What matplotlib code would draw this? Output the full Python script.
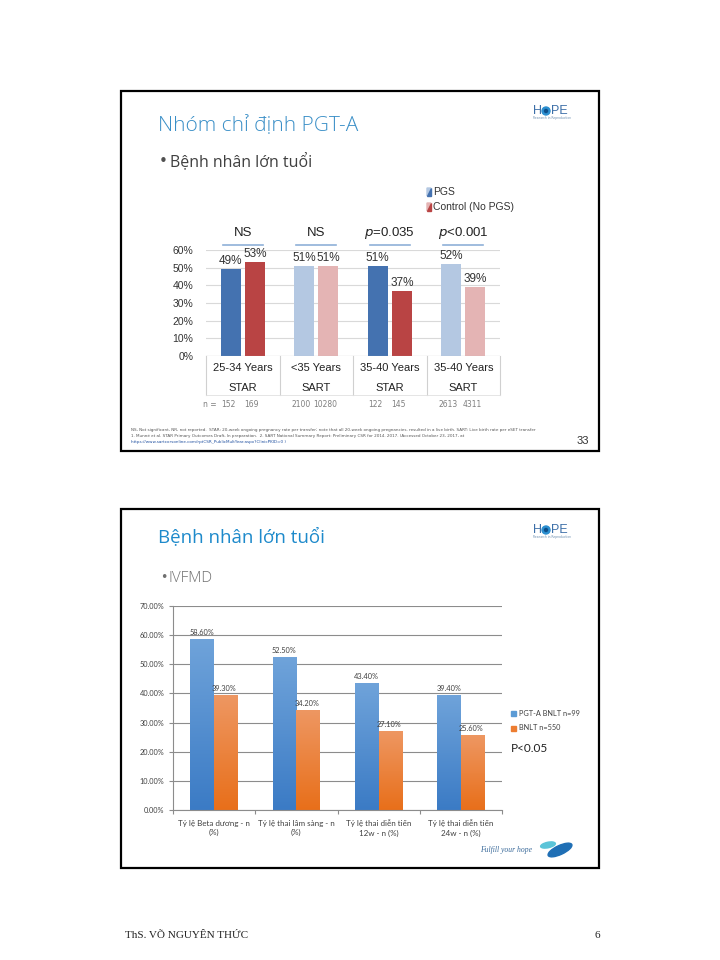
import matplotlib
matplotlib.use('Agg')
import matplotlib.pyplot as plt
import numpy as np
from matplotlib.patches import Rectangle, Polygon, Ellipse
from matplotlib.colors import LinearSegmentedColormap

plt.rcParams['font.family'] = ['DejaVu Sans']

# ---- slide 1 data ----
s1_age = ['25-34 Years', '<35 Years', '35-40 Years', '35-40 Years']
s1_src = ['STAR', 'SART', 'STAR', 'SART']
s1_pgs = [0.49, 0.51, 0.51, 0.52]
s1_ctrl = [0.53, 0.51, 0.37, 0.39]
s1_pval = ['NS', 'NS', '$p$=0.035', '$p$<0.001']
s1_n_pgs = [152, 2100, 122, 2613]
s1_n_ctrl = [169, 10280, 145, 4311]
s1_pgs_col = ['#4472b0', '#b4c8e2', '#4472b0', '#b4c8e2']
s1_ctrl_col = ['#b94444', '#e4b4b4', '#b94444', '#e4b4b4']

# ---- slide 2 data ----
s2_cats = ['Tỷ lệ Beta dương - n\n(%)', 'Tỷ lệ thai lâm sàng - n\n(%)',
           'Tỷ lệ thai diễn tiến\n12w - n (%)', 'Tỷ lệ thai diễn tiến\n24w - n (%)']
s2_pgta = [0.586, 0.525, 0.434, 0.394]
s2_bnlt = [0.393, 0.342, 0.271, 0.256]
s2_names = ['PGT-A BNLT n=99', 'BNLT n=550']

ARIAL = ['Liberation Sans', 'DejaVu Sans']
CALIBRI = ['Lato', 'DejaVu Sans']

W, H = 720, 960
fig = plt.figure(figsize=(7.2, 9.6), dpi=100)
fig.patch.set_facecolor('white')

# background axes in pixel coordinates
bg = fig.add_axes([0, 0, 1, 1])
bg.set_xlim(0, W)
bg.set_ylim(H, 0)
bg.axis('off')

# slide frames
for top, bot in [(91, 451), (509, 868)]:
    bg.add_patch(Rectangle((121, top), 478, bot - top, fill=False, ec='black', lw=1.6))

# ---------------- slide 1 ----------------
bg.text(158, 126, 'Nhóm chỉ định PGT-A', fontsize=15, color='#3a8fc7',
        family=['Open Sans', 'DejaVu Sans'], weight='light', va='center')
bg.text(159, 162, '•', fontsize=11, color='#505050', va='center')
bg.text(170, 162, 'Bệnh nhân lớn tuổi', fontsize=11.5, color='#404040',
        family=['Open Sans', 'DejaVu Sans'], va='center')


def hope_logo(x, y):
    bg.text(x, y, 'H', fontsize=9, color='#3d6fa8', va='center', ha='left', family=ARIAL)
    bg.add_patch(Ellipse((x + 13, y), 8, 8, color='#2b8fd0'))
    bg.add_patch(Ellipse((x + 13, y), 3, 3, color='#0d4f8a'))
    bg.text(x + 18, y, 'PE', fontsize=9, color='#3d6fa8', va='center', ha='left', family=ARIAL)
    bg.text(x, y + 7, 'Research in Reproduction', fontsize=2.2, color='#6d8fb0', va='center')


hope_logo(533, 111)
hope_logo(533, 530)

# slide 1 legend
for yy, light, dark, name in [(192, '#b4c8e2', '#4472b0', 'PGS'),
                              (207, '#e4b4b4', '#b94444', 'Control (No PGS)')]:
    bg.add_patch(Polygon([(427, yy - 4), (431, yy - 4), (427, yy + 4)], color=light))
    bg.add_patch(Polygon([(431, yy - 4), (431, yy + 4), (427, yy + 4)], color=dark))
    bg.text(433, yy, name, fontsize=7.5, color='#333333', va='center', family=ARIAL)

ax1 = fig.add_axes([206 / W, 1 - 356 / H, 294 / W, 106 / H])
x1 = np.arange(len(s1_pgs))
bw1 = 0.27
ax1.bar(x1 - 0.165, s1_pgs, bw1, color=s1_pgs_col, zorder=3)
ax1.bar(x1 + 0.165, s1_ctrl, bw1, color=s1_ctrl_col, zorder=3)
ax1.set_xlim(-0.5, 3.5)
ax1.set_ylim(0, 0.6)
ax1.set_yticks(np.arange(0, 0.61, 0.1))
ax1.set_yticklabels([f'{int(round(v * 100))}%' for v in np.arange(0, 0.61, 0.1)], family=ARIAL)
ax1.tick_params(axis='y', length=0, pad=9, labelsize=7.5, labelcolor='#333333')
ax1.set_xticks([])
ax1.grid(axis='y', color='#d9d9d9', lw=0.8, zorder=0)
for sp in ax1.spines.values():
    sp.set_visible(False)
ax1.axhline(0, color='#bfbfbf', lw=0.8, zorder=4)

for i in range(len(s1_pgs)):
    ax1.text(i - 0.165, s1_pgs[i] + 0.012, f'{int(round(s1_pgs[i] * 100))}%',
             ha='center', va='bottom', fontsize=8.5, color='#333333', family=ARIAL)
    ax1.text(i + 0.165, s1_ctrl[i] + 0.012, f'{int(round(s1_ctrl[i] * 100))}%',
             ha='center', va='bottom', fontsize=8.5, color='#333333', family=ARIAL)
    ax1.text(i, 0.696, s1_pval[i], ha='center', va='center', fontsize=9.5, color='#222222',
             family=ARIAL)
    ax1.plot([i - 0.27, i + 0.27], [0.628, 0.628], color='#8fb0d8', lw=1.2, clip_on=False)
    ax1.text(i, -0.068, s1_age[i], ha='center', va='center', fontsize=8, color='#222222', family=ARIAL)
    ax1.text(i, -0.181, s1_src[i], ha='center', va='center', fontsize=8, color='#222222', family=ARIAL)
    ax1.text(i - 0.2, -0.277, str(s1_n_pgs[i]), ha='center', va='center', fontsize=5.5, color='#7f7f7f')
    ax1.text(i + 0.12, -0.277, str(s1_n_ctrl[i]), ha='center', va='center', fontsize=5.5, color='#7f7f7f')
ax1.text(-0.35, -0.277, 'n =', ha='right', va='center', fontsize=5.5, color='#7f7f7f')
for sx in np.arange(-0.5, 3.6, 1.0):
    ax1.plot([sx, sx], [0, -0.221], color='#d0d0d0', lw=0.8, clip_on=False)
ax1.plot([-0.5, 3.5], [-0.221, -0.221], color='#e0e0e0', lw=0.6, clip_on=False)

# footnotes
notes = ['NS, Not significant, NR, not reported.  STAR: 20-week ongoing pregnancy rate per transfer; note that all 20-week ongoing pregnancies. '
         'resulted in a live birth. SART: Live birth rate per eSET transfer',
         '1. Munné et al. STAR Primary Outcomes Draft, In preparation.  2. SART National Summary Report: Preliminary CSR for 2014. 2017. '
         '(Accessed October 23, 2017, at']
bg.text(131, 430, notes[0], fontsize=3.0, color='#555555', va='center')
bg.text(131, 436, notes[1], fontsize=3.0, color='#555555', va='center')
bg.text(131, 442, 'https://www.sartcorsonline.com/rptCSR_PublicMultYear.aspx?ClinicPKID=0 )',
        fontsize=3.0, color='#2050a0', va='center')
bg.text(583, 441, '33', fontsize=8, color='#333333', ha='center', va='center', family=ARIAL)

# ---------------- slide 2 ----------------
bg.text(158, 537, 'Bệnh nhân lớn tuổi', fontsize=13.5, color='#1e8acb',
        family=['Open Sans', 'DejaVu Sans'], va='center')
bg.text(160, 578, '•', fontsize=9, color='#707070', va='center')
bg.text(169, 578, 'IVFMD', fontsize=11, color='#707070',
        family=['Open Sans', 'DejaVu Sans'], weight='light', va='center')

ax2 = fig.add_axes([173 / W, 1 - 810 / H, 329 / W, 204 / H])
x2 = np.arange(len(s2_pgta))
bw2 = 0.29
bars_a = ax2.bar(x2 - bw2 / 2, s2_pgta, bw2, color='#5b9bd5', zorder=3)
bars_b = ax2.bar(x2 + bw2 / 2, s2_bnlt, bw2, color='#ed7d31', zorder=3)

cmap_blue = LinearSegmentedColormap.from_list('b', ['#3b7bc5', '#6fa3da'])
cmap_orng = LinearSegmentedColormap.from_list('o', ['#e86f1a', '#ee9762'])
grad = np.linspace(0, 1, 128).reshape(-1, 1)
for bars, cm in [(bars_a, cmap_blue), (bars_b, cmap_orng)]:
    for b in bars:
        x0, w, h = b.get_x(), b.get_width(), b.get_height()
        ax2.imshow(grad, extent=[x0, x0 + w, 0, h], origin='lower', cmap=cm,
                   aspect='auto', zorder=4)

ax2.set_xlim(-0.5, 3.5)
ax2.set_ylim(0, 0.7)
yt = np.arange(0, 0.71, 0.1)
ax2.set_yticks(yt)
ax2.set_yticklabels([f'{v * 100:.2f}%' for v in yt], family=CALIBRI)
ax2.tick_params(axis='y', length=3, width=0.8, color='#8c8c8c', pad=3,
                labelsize=5.3, labelcolor='#404040')
ax2.set_xticks(x2)
ax2.set_xticklabels(s2_cats, fontsize=5.8, color='#404040', linespacing=1.4, family=CALIBRI)
ax2.tick_params(axis='x', which='major', length=0, pad=7)
ax2.set_xticks(np.arange(-0.5, 3.6, 1.0), minor=True)
ax2.tick_params(axis='x', which='minor', length=3, width=0.8, color='#8c8c8c')
ax2.grid(axis='y', color='#8c8c8c', lw=0.8, zorder=0)
ax2.spines['top'].set_visible(False)
ax2.spines['right'].set_visible(False)
ax2.spines['left'].set_color('#8c8c8c')
ax2.spines['bottom'].set_color('#8c8c8c')
ax2.spines['bottom'].set_zorder(5)

for i in range(len(s2_pgta)):
    ax2.text(i - bw2 / 2, s2_pgta[i] + 0.012, f'{s2_pgta[i] * 100:.2f}%',
             ha='center', va='bottom', fontsize=5.3, color='#404040', zorder=6, family=CALIBRI)
    ax2.text(i + bw2 / 2 - 0.02, s2_bnlt[i] + 0.012, f'{s2_bnlt[i] * 100:.2f}%',
             ha='center', va='bottom', fontsize=5.3, color='#404040', zorder=6, family=CALIBRI)

# slide 2 legend
for yy, col, name in [(713, '#5b9bd5', s2_names[0]), (728, '#ed7d31', s2_names[1])]:
    bg.add_patch(Rectangle((511, yy - 2.5), 5, 5, color=col))
    bg.text(519, yy, name, fontsize=5.3, color='#404040', va='center', family=CALIBRI)
bg.text(511, 748, 'P<0.05', fontsize=8.5, color='#222222', va='center', family=CALIBRI)

# footer logo "Fulfill your hope"
bg.text(532, 850, 'Fulfill your hope', fontsize=5.5, style='italic', color='#3a6a9a',
        family=['Liberation Serif'], ha='right', va='center')
bg.add_patch(Ellipse((548, 845), 15, 5.5, angle=-12, color='#5bc4d8'))
bg.add_patch(Ellipse((560, 850), 26, 9, angle=-25, color='#1f6fb5'))

# page footer
bg.text(125, 936, 'ThS. VÕ NGUYÊN THỨC', fontsize=8, color='#222222',
        family=['Liberation Serif'], va='center')
bg.text(597, 936, '6', fontsize=8, color='#222222', family=['Liberation Serif'],
        ha='center', va='center')

fig.savefig('out.png', dpi=100, facecolor='white')
